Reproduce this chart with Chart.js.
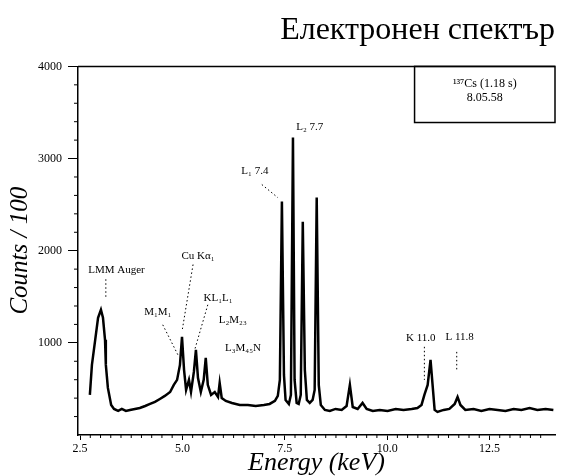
<!DOCTYPE html>
<html>
<head>
<meta charset="utf-8">
<script src="https://cdn.jsdelivr.net/npm/chart.js@4/dist/chart.umd.min.js"></script>
<style>
    html, body { margin: 0; padding: 0; background: #fff; }
    #wrap { width: 566px; height: 476px; }
</style>
</head>
<body>
<div id="wrap"><canvas id="spectrum"></canvas></div>
<script>
// energy in keV, counts / 100
const energy = [
    2.74, 2.79, 2.87, 2.94, 3.01, 3.06, 3.11, 3.13, 3.18, 3.26,
    3.33, 3.43, 3.52, 3.62, 3.72, 3.84, 3.96, 4.09, 4.21, 4.33,
    4.45, 4.57, 4.70, 4.79, 4.87, 4.94, 4.99, 5.04, 5.09, 5.16,
    5.21, 5.28, 5.33, 5.38, 5.45, 5.52, 5.57, 5.62, 5.70, 5.79,
    5.87, 5.91, 5.96, 6.06, 6.21, 6.40, 6.60, 6.79, 6.99, 7.13,
    7.26, 7.33, 7.38, 7.43, 7.48, 7.52, 7.60, 7.65, 7.70, 7.74,
    7.79, 7.84, 7.89, 7.94, 7.99, 8.04, 8.11, 8.18, 8.23, 8.28,
    8.33, 8.38, 8.48, 8.60, 8.74, 8.89, 9.01, 9.09, 9.16, 9.28,
    9.40, 9.50, 9.65, 9.82, 10.01, 10.21, 10.40, 10.60, 10.74, 10.84,
    10.91, 10.99, 11.06, 11.11, 11.16, 11.23, 11.38, 11.52, 11.65, 11.72,
    11.79, 11.91, 12.11, 12.30, 12.50, 12.70, 12.89, 13.09, 13.28, 13.48,
    13.67, 13.87, 14.06
];
const counts = [
    435, 761, 1033, 1272, 1359, 1272, 1033, 761, 511, 326,
    283, 261, 283, 261, 272, 283, 293, 315, 337, 359,
    391, 424, 467, 544, 598, 761, 1065, 707, 489, 598,
    467, 685, 924, 620, 467, 598, 837, 544, 435, 467,
    413, 565, 402, 370, 348, 326, 326, 315, 326, 337,
    370, 424, 598, 2533, 652, 380, 337, 435, 3228, 598,
    348, 337, 435, 2315, 707, 380, 348, 380, 489, 2576,
    544, 326, 272, 261, 283, 272, 315, 544, 304, 283,
    348, 283, 261, 272, 261, 283, 272, 283, 293, 326,
    435, 544, 815, 544, 272, 250, 272, 283, 337, 413,
    326, 272, 283, 261, 283, 272, 261, 283, 272, 293,
    272, 283, 272
];

const xTicks = [2.5, 5, 7.5, 10, 12.5];
const xTickLabels = ['2.5', '5.0', '7.5', '10.0', '12.5'];
const yTicks = [1000, 2000, 3000, 4000];
const yTickLabels = ['1000', '2000', '3000', '4000'];

// peak labels: text, energy, counts
const peakText = ['LMM Auger', 'Cu Kα₁', 'M₁M₁', 'KL₁L₁', 'L₂M₂₃', 'L₃M₄₅N', 'L₁ 7.4', 'L₂ 7.7', 'K 11.0', 'L 11.8'];
const peakE = [2.70, 5.38, 4.40, 5.87, 6.23, 6.48, 6.77, 8.11, 10.82, 11.77];
const peakC = [1794, 1946, 1337, 1489, 1250, 946, 2859, 3337, 1054, 1065];

// dotted leader lines: from (e0, c0) to (e1, c1)
const leadE0 = [3.13, 5.26, 4.52, 5.62, 6.94, 10.91, 11.70];
const leadC0 = [1690, 1850, 1196, 1413, 2718, 957, 902];
const leadE1 = [3.13, 5.00, 4.89, 5.30, 7.33, 10.91, 11.70];
const leadC1 = [1500, 1150, 870, 924, 2576, 598, 707];

const insetLines = ['¹³⁷Cs (1.18 s)', '8.05.58'];

const serif = '"Liberation Serif", "DejaVu Serif", serif';

const extras = {
    id: 'extras',
    afterDatasetsDraw(chart) {
        const c = chart.ctx;
        const xs = chart.scales.x;
        const ys = chart.scales.y;
        const a = chart.chartArea;
        c.save();
        c.strokeStyle = '#000';
        c.fillStyle = '#000';

        // top frame line
        c.lineWidth = 1.5;
        c.beginPath();
        c.moveTo(a.left, a.top);
        c.lineTo(a.right, a.top);
        c.stroke();

        // minor ticks
        c.lineWidth = 1;
        for (let v = 200; v < 4000; v += 200) {
            if (v % 1000 === 0) continue;
            const py = ys.getPixelForValue(v);
            c.beginPath();
            c.moveTo(a.left - 4, py);
            c.lineTo(a.left, py);
            c.stroke();
        }
        for (let v = 2.75; v < 14; v += 0.25) {
            if (Math.abs(v / 2.5 - Math.round(v / 2.5)) < 1e-6) continue;
            const px = xs.getPixelForValue(v);
            c.beginPath();
            c.moveTo(px, a.bottom);
            c.lineTo(px, a.bottom + 3);
            c.stroke();
        }

        // leaders
        c.setLineDash([1.5, 2.5]);
        for (let i = 0; i < leadE0.length; i++) {
            c.beginPath();
            c.moveTo(xs.getPixelForValue(leadE0[i]), ys.getPixelForValue(leadC0[i]));
            c.lineTo(xs.getPixelForValue(leadE1[i]), ys.getPixelForValue(leadC1[i]));
            c.stroke();
        }
        c.setLineDash([]);

        // peak labels
        c.font = '11px ' + serif;
        c.textBaseline = 'middle';
        for (let i = 0; i < peakText.length; i++) {
            c.textAlign = i === 0 ? 'left' : 'center';
            c.fillText(peakText[i], xs.getPixelForValue(peakE[i]), ys.getPixelForValue(peakC[i]));
        }

        // inset box
        const bx0 = xs.getPixelForValue(10.67);
        const by1 = ys.getPixelForValue(3391);
        c.lineWidth = 1.5;
        c.strokeRect(bx0, a.top, a.right - bx0, by1 - a.top);
        c.font = '12px ' + serif;
        c.textAlign = 'center';
        const bxm = (bx0 + a.right) / 2;
        c.fillText(insetLines[0], bxm, a.top + 17);
        c.fillText(insetLines[1], bxm, a.top + 31);
        c.restore();
    }
};

const ctx = document.getElementById('spectrum').getContext('2d');

new Chart(ctx, {
    type: 'line',
    data: {
        datasets: [{
            data: energy.map((e, i) => ({ x: e, y: counts[i] })),
            borderColor: '#000',
            borderWidth: 2.5,
            pointRadius: 0,
            tension: 0,
            fill: false
        }]
    },
    options: {
        responsive: true,
        maintainAspectRatio: false,
        animation: false,
        layout: { padding: { left: 0, right: 11, top: 0, bottom: 0 } },
        plugins: {
            legend: { display: false },
            tooltip: { enabled: false },
            title: {
                display: true,
                text: 'Електронен спектър',
                align: 'end',
                color: '#000',
                font: { family: serif, size: 32, weight: 'normal', lineHeight: 1.2 },
                padding: { top: 11, bottom: 17 }
            }
        },
        scales: {
            x: {
                type: 'linear',
                min: 2.45,
                max: 14.1,
                afterFit: s => { s.height = 41; },
                afterBuildTicks: s => { s.ticks = xTicks.map(v => ({ value: v })); },
                border: { display: true, color: '#000', width: 1.5 },
                grid: { display: true, drawOnChartArea: false, tickLength: 5, color: '#000' },
                ticks: {
                    color: '#000',
                    padding: 2,
                    maxRotation: 0,
                    font: { family: serif, size: 12 },
                    callback: (v, i) => xTickLabels[i]
                },
                title: {
                    display: true,
                    text: 'Energy (keV)',
                    color: '#000',
                    font: { family: serif, size: 26, style: 'italic', lineHeight: 1 },
                    padding: { top: 0, bottom: 0 }
                }
            },
            y: {
                min: 0,
                max: 4000,
                afterFit: s => { s.width = 78; },
                afterBuildTicks: s => { s.ticks = yTicks.map(v => ({ value: v })); },
                border: { display: true, color: '#000', width: 1.5 },
                grid: { display: true, drawOnChartArea: false, tickLength: 10, color: '#000' },
                ticks: {
                    color: '#000',
                    padding: 6,
                    font: { family: serif, size: 12 },
                    callback: (v, i) => yTickLabels[i]
                },
                title: {
                    display: true,
                    text: 'Counts / 100',
                    color: '#000',
                    font: { family: serif, size: 25, style: 'italic', lineHeight: 1 },
                    padding: { top: 8, bottom: 0 }
                }
            }
        }
    },
    plugins: [extras]
});
</script>
</body>
</html>
